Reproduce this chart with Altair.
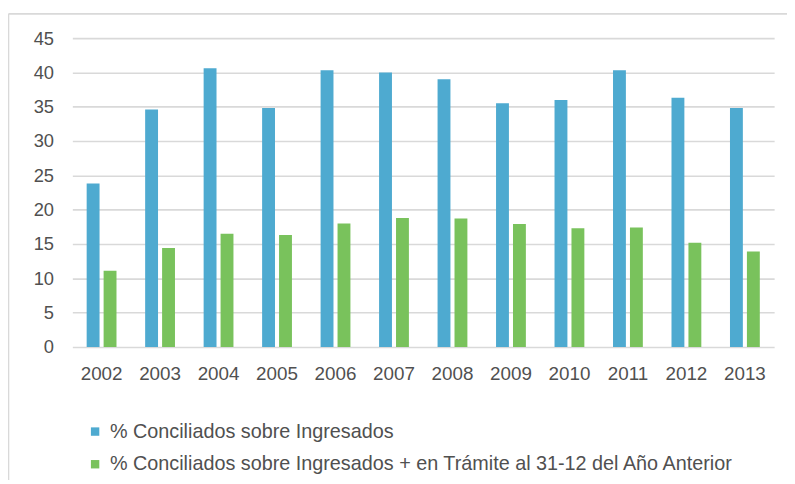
import altair as alt
import pandas as pd

years = ["2002", "2003", "2004", "2005", "2006", "2007", "2008", "2009", "2010", "2011", "2012", "2013"]
series_names = [
    "% Conciliados sobre Ingresados",
    "% Conciliados sobre Ingresados + en Trámite al 31-12 del Año Anterior",
]
conciliados = [23.8, 34.6, 40.6, 34.8, 40.3, 40.0, 39.0, 35.5, 36.0, 40.3, 36.3, 34.8]
conciliados_tramite = [11.1, 14.4, 16.5, 16.3, 18.0, 18.8, 18.7, 17.9, 17.3, 17.4, 15.2, 13.9]
colors = ["#4EAAD0", "#79C25C"]
y_ticks = [0, 5, 10, 15, 20, 25, 30, 35, 40, 45]

rows = []
for i, yr in enumerate(years):
    rows.append({"year": yr, "serie": series_names[0], "value": conciliados[i]})
    rows.append({"year": yr, "serie": series_names[1], "value": conciliados_tramite[i]})
df = pd.DataFrame(rows)

FONT = "Liberation Sans"
TXT = "#505050"
GRID = "#D9D9D9"

bars = alt.Chart(df).mark_bar().encode(
    x=alt.X("year:N", sort=years, title=None,
            scale=alt.Scale(paddingInner=0.49, paddingOuter=0.245),
            axis=alt.Axis(labelAngle=0, ticks=False, domain=False, grid=False,
                          labelPadding=18, labelFontSize=19, labelColor=TXT, labelFont=FONT)),
    xOffset=alt.XOffset("serie:N", sort=series_names,
                        scale=alt.Scale(paddingInner=0.24, paddingOuter=0)),
    y=alt.Y("value:Q", title=None,
            scale=alt.Scale(domain=[0, 45], nice=False),
            axis=alt.Axis(values=y_ticks, ticks=False, domain=False, grid=True,
                          gridColor=GRID, gridWidth=1.6, labelPadding=19,
                          labelFontSize=18.5, labelColor=TXT, labelFont=FONT)),
    color=alt.Color("serie:N", sort=series_names,
                    scale=alt.Scale(domain=series_names, range=colors),
                    legend=alt.Legend(title=None, orient="none", legendX=13, legendY=387.5,
                                      direction="vertical", symbolType="square",
                                      symbolSize=72, symbolStrokeWidth=0, padding=0,
                                      labelFontSize=20, labelColor=TXT, labelFont=FONT,
                                      labelOffset=5, rowPadding=13, labelLimit=800)),
)

frame_v = alt.Chart(pd.DataFrame({"k": [0]})).mark_rule(color=GRID, strokeWidth=1.6).encode(
    x=alt.value(-64.5), y=alt.value(-24.5), y2=alt.value(470)
)
frame_h = alt.Chart(pd.DataFrame({"k": [0]})).mark_rule(color=GRID, strokeWidth=1.6).encode(
    x=alt.value(-64.5), x2=alt.value(740), y=alt.value(-24.5)
)

chart = alt.layer(frame_v, frame_h, bars).properties(
    width=709, height=312,
    autosize=alt.AutoSizeParams(type="none"),
    padding={"left": 65, "top": 28, "right": 13, "bottom": 132},
).configure(font=FONT).configure_view(stroke="transparent")

chart.save("out.html", embed_options={"renderer": "svg", "actions": False})
